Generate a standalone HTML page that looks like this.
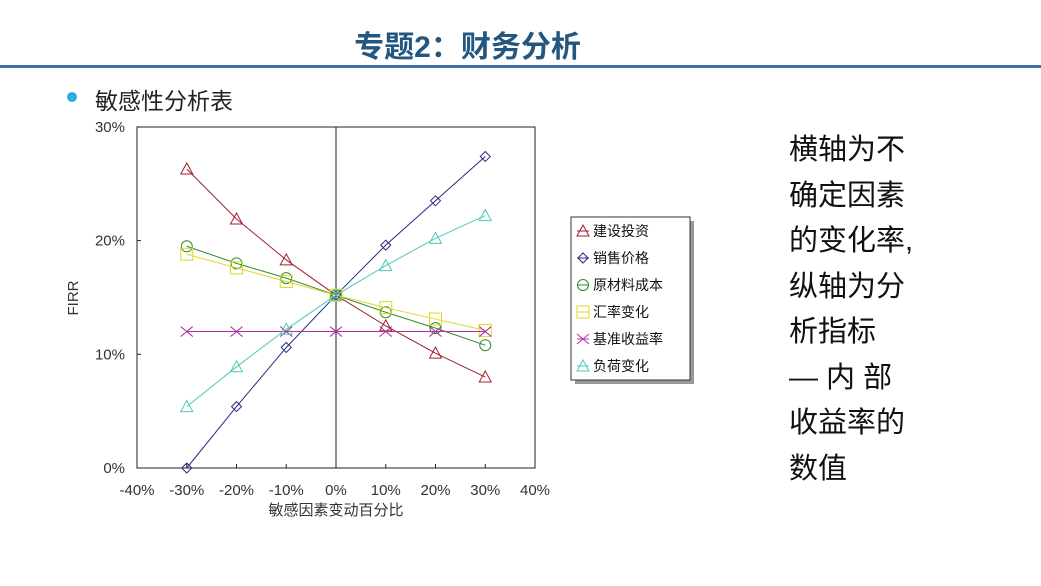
<!DOCTYPE html>
<html><head><meta charset="utf-8"><style>
body{margin:0;width:1041px;height:586px;background:#fff;overflow:hidden;position:relative;font-family:"Liberation Sans","Noto Sans CJK SC",sans-serif}
.title{position:absolute;left:0;width:935px;top:22px;text-align:center;font-size:30px;font-weight:bold;color:#23577f}
.rule{position:absolute;left:0;top:65px;width:1041px;height:3px;background:#3a6fa8}
.bullet{position:absolute;left:67px;top:92px;width:10px;height:10px;border-radius:50%;background:#2ab0e0}
.sub{position:absolute;left:95px;top:82px;font-size:23px;color:#222}
.right{position:absolute;left:789px;top:128px;font-size:29px;line-height:45.5px;color:#111}
</style></head><body>
<div class="title">专题2：财务分析</div>
<div class="rule"></div>
<div class="bullet"></div>
<div class="sub">敏感性分析表</div>
<div class="right">横轴为不<br>确定因素<br>的变化率,<br>纵轴为分<br>析指标<br>— 内 部<br>收益率的<br>数值</div>
<svg id="s" width="1041" height="586" style="position:absolute;left:0;top:0" font-family="Liberation Sans, Noto Sans CJK SC, sans-serif"></svg>
<script>
var s=document.getElementById('s'),h='';
function X(p){return 336+p*4.975}function Y(v){return 468-v*11.37}
h+='<rect x="137" y="127" width="398" height="341" fill="none" stroke="#222" stroke-width="1"/>';
h+='<line x1="336" y1="127" x2="336" y2="468" stroke="#222"/>';
[0,10,20,30].forEach(function(v){h+='<line x1="137" x2="141" y1="'+Y(v)+'" y2="'+Y(v)+'" stroke="#222"/><text x="125" y="'+(Y(v)+5)+'" font-size="15" text-anchor="end" fill="#333">'+v+'%</text>';});
for(var p=-40;p<=40;p+=10){h+='<line x1="'+X(p)+'" x2="'+X(p)+'" y1="468" y2="464" stroke="#222"/><text x="'+X(p)+'" y="495" font-size="15" text-anchor="middle" fill="#333">'+p+'%</text>';}
h+='<text x="336" y="515" font-size="15" text-anchor="middle" fill="#333">敏感因素变动百分比</text>';
h+='<text transform="translate(78,298) rotate(-90)" font-size="15" text-anchor="middle" fill="#333">FIRR</text>';
var xs=[-30,-20,-10,0,10,20,30];
var S=[
['#a0202e','tri',[26.3,21.9,18.3,15.2,12.5,10.1,8.0]],
['#2a2a80','dia',[0,5.4,10.6,15.2,19.6,23.5,27.4]],
['#2e8b2e','cir',[19.5,18.0,16.7,15.2,13.7,12.3,10.8]],
['#e0d820','sq',[18.8,17.6,16.4,15.2,14.1,13.1,12.1]],
['#b030a0','x',[12,12,12,12,12,12,12]],
['#50c8b8','tri',[5.4,8.9,12.2,15.2,17.8,20.2,22.2]]];
function mk(t,x,y,c){var a='fill="none" stroke="'+c+'" stroke-width="1"';
if(t=='tri')return '<polygon points="'+x+','+(y-6)+' '+(x-6)+','+(y+5)+' '+(x+6)+','+(y+5)+'" '+a+'/>';
if(t=='dia')return '<polygon points="'+x+','+(y-5)+' '+(x+5)+','+y+' '+x+','+(y+5)+' '+(x-5)+','+y+'" '+a+'/>';
if(t=='cir')return '<circle cx="'+x+'" cy="'+y+'" r="5.5" '+a+'/>';
if(t=='sq')return '<rect x="'+(x-6)+'" y="'+(y-6)+'" width="12" height="12" '+a+'/>';
return '<path d="M'+(x-6)+' '+(y-5)+'L'+(x+6)+' '+(y+5)+'M'+(x-6)+' '+(y+5)+'L'+(x+6)+' '+(y-5)+'" '+a+'/>';}
S.forEach(function(sr){var pts=xs.map(function(p,i){return X(p)+','+Y(sr[2][i])}).join(' ');
h+='<polyline points="'+pts+'" fill="none" stroke="'+sr[0]+'" stroke-width="1"/>';
xs.forEach(function(p,i){h+=mk(sr[1],X(p),Y(sr[2][i]),sr[0]);});});
h+='<rect x="575" y="221" width="119" height="163" fill="#999"/><rect x="571" y="217" width="119" height="163" fill="#fff" stroke="#333"/>';
var nm=['建设投资','销售价格','原材料成本','汇率变化','基准收益率','负荷变化'];
nm.forEach(function(n,i){var y=231+i*27;var sr=S[i];
h+='<line x1="577" x2="589" y1="'+y+'" y2="'+y+'" stroke="'+sr[0]+'"/>'+mk(sr[1],583,y,sr[0]);
h+='<text x="593" y="'+(y+5)+'" font-size="14" fill="#111">'+n+'</text>';});
s.innerHTML=h;
</script>
</body></html>
